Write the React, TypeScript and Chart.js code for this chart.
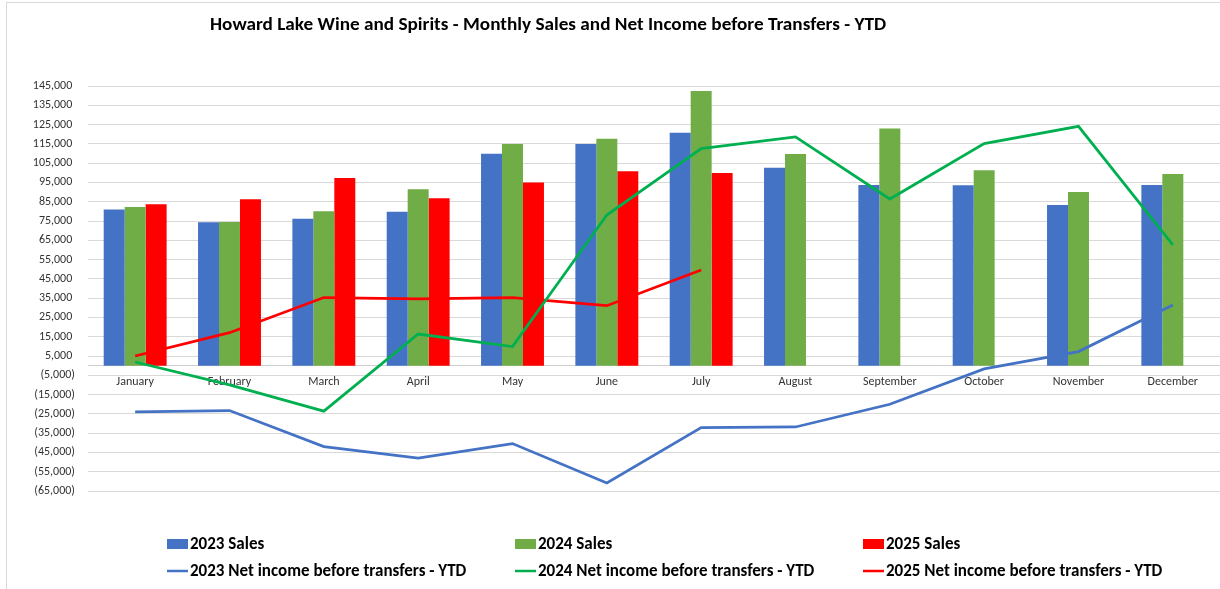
import React, { useEffect, useRef } from "react";
import { Chart, registerables } from "chart.js";

Chart.register(...registerables);

const TITLE = "Howard Lake Wine and Spirits - Monthly Sales and Net Income before Transfers - YTD";

const months = [
  "January", "February", "March", "April", "May", "June",
  "July", "August", "September", "October", "November", "December",
];

const sales2023 = [81000, 74300, 76200, 79800, 109900, 114900, 120800, 102600, 93700, 93500, 83300, 93700];
const sales2024 = [82300, 74500, 80000, 91400, 114900, 117700, 142400, 109700, 122900, 101300, 90000, 99400];
const sales2025 = [83700, 86300, 97300, 86800, 94900, 100800, 99900, null, null, null, null, null];

const net2023 = [-24000, -23300, -42000, -47900, -40400, -60800, -32100, -31800, -20000, -1700, 7300, 31500];
const net2024 = [1900, -10000, -23600, 16400, 9900, 78100, 112500, 118600, 86400, 115100, 124100, 62600];
const net2025 = [5000, 17100, 35300, 34600, 35300, 31100, 49600, null, null, null, null, null];

const Y_MIN = -65000;
const Y_MAX = 145000;
const Y_STEP = 10000;

const BLUE = "#4472C4";
const GREEN_BAR = "#70AD47";
const RED = "#FF0000";
const GREEN_LINE = "#00B050";

const FONT = "Carlito, Lato, 'Noto Sans', sans-serif";

function fmt(v: number): string {
  const s = Math.abs(v).toLocaleString("en-US");
  return v < 0 ? "(" + s + ")" : s + " ";
}

const overlayPlugin = {
  id: "overlay",
  beforeDraw(chart: any) {
    const ctx = chart.ctx;
    ctx.save();
    ctx.fillStyle = "#ffffff";
    ctx.fillRect(0, 0, chart.width, chart.height);
    ctx.restore();
  },
  afterDraw(chart: any) {
    const ctx = chart.ctx;
    ctx.save();
    // outer border
    ctx.strokeStyle = "#d9d9d9";
    ctx.lineWidth = 1;
    ctx.strokeRect(6.5, 2.5, chart.width + 10, chart.height + 10);

    // title (stretched to the reference's span)
    ctx.fillStyle = "#000000";
    ctx.font = "bold 18px " + FONT;
    ctx.textBaseline = "middle";
    ctx.textAlign = "left";
    const tw = ctx.measureText(TITLE).width;
    ctx.save();
    ctx.translate(210, 25);
    ctx.scale(676 / tw, 1);
    ctx.fillText(TITLE, 0, 0);
    ctx.restore();

    // legend
    const cols = [167, 515, 863];
    const rows = [544, 571];
    const ds = chart.data.datasets;
    const barItems = ds.filter((d: any) => d.type === "bar");
    const lineItems = ds.filter((d: any) => d.type === "line");
    ctx.font = "bold 17px " + FONT;
    const drawText = (t: string, x: number, y: number) => {
      ctx.fillStyle = "#000000";
      ctx.fillText(t, x, y + 1);
    };
    barItems.forEach((d: any, i: number) => {
      const x = cols[i];
      ctx.fillStyle = d.backgroundColor;
      ctx.fillRect(x, rows[0] - 5, 21, 10);
      drawText(d.label, x + 23, rows[0]);
    });
    lineItems.forEach((d: any, i: number) => {
      const x = cols[i];
      ctx.strokeStyle = d.borderColor;
      ctx.lineWidth = 2.5;
      ctx.beginPath();
      ctx.moveTo(x, rows[1]);
      ctx.lineTo(x + 21, rows[1]);
      ctx.stroke();
      drawText(d.label, x + 23, rows[1]);
    });
    ctx.restore();
  },
};

export default function App() {
  const ref = useRef<HTMLCanvasElement | null>(null);

  useEffect(() => {
    document.body.style.margin = "0";
    const canvas = ref.current;
    if (!canvas) return;
    const lineCommon = {
      type: "line" as const,
      borderWidth: 2.75,
      pointRadius: 0,
      pointHoverRadius: 0,
      tension: 0,
      fill: false,
      order: 0,
      spanGaps: false,
    };
    const barCommon = {
      type: "bar" as const,
      order: 1,
      borderWidth: 0,
      categoryPercentage: 0.667,
      barPercentage: 1.0,
    };
    const chart = new Chart(canvas, {
      data: {
        labels: months,
        datasets: [
          { ...barCommon, label: "2023 Sales", data: sales2023, backgroundColor: BLUE },
          { ...barCommon, label: "2024 Sales", data: sales2024, backgroundColor: GREEN_BAR },
          { ...barCommon, label: "2025 Sales", data: sales2025, backgroundColor: RED },
          { ...lineCommon, label: "2023 Net income before transfers - YTD", data: net2023, borderColor: BLUE, backgroundColor: BLUE },
          { ...lineCommon, label: "2024 Net income before transfers - YTD", data: net2024, borderColor: GREEN_LINE, backgroundColor: GREEN_LINE },
          { ...lineCommon, label: "2025 Net income before transfers - YTD", data: net2025, borderColor: RED, backgroundColor: RED },
        ] as any,
      },
      options: {
        animation: false,
        responsive: false,
        maintainAspectRatio: false,
        devicePixelRatio: 1,
        layout: { padding: { left: 0, top: 86, right: 0, bottom: 98 } },
        plugins: {
          legend: { display: false },
          title: { display: false },
          tooltip: { enabled: false },
        },
        scales: {
          x: {
            type: "category",
            position: { y: 0 } as any,
            grid: { display: false, drawTicks: false },
            border: { display: true, color: "#d0d0d0", width: 1 },
            ticks: {
              color: "#333333",
              font: { family: FONT, size: 12 },
              padding: 9,
              maxRotation: 0,
              autoSkip: false,
            },
          },
          y: {
            type: "linear",
            min: Y_MIN,
            max: Y_MAX,
            afterFit(scale: any) {
              scale.width = 88;
            },
            grid: { color: "#d9d9d9", lineWidth: 1, drawTicks: false },
            border: { display: false },
            ticks: {
              stepSize: Y_STEP,
              color: "#333333",
              font: { family: FONT, size: 12 },
              padding: 13,
              callback: (v: any) => fmt(Number(v)),
            },
          },
        },
      },
      plugins: [overlayPlugin],
    });
    return () => chart.destroy();
  }, []);

  return (
    <div style={{ width: 1220, height: 589 }}>
      <canvas ref={ref} width={1220} height={589} style={{ display: "block", width: 1220, height: 589 }} />
    </div>
  );
}
